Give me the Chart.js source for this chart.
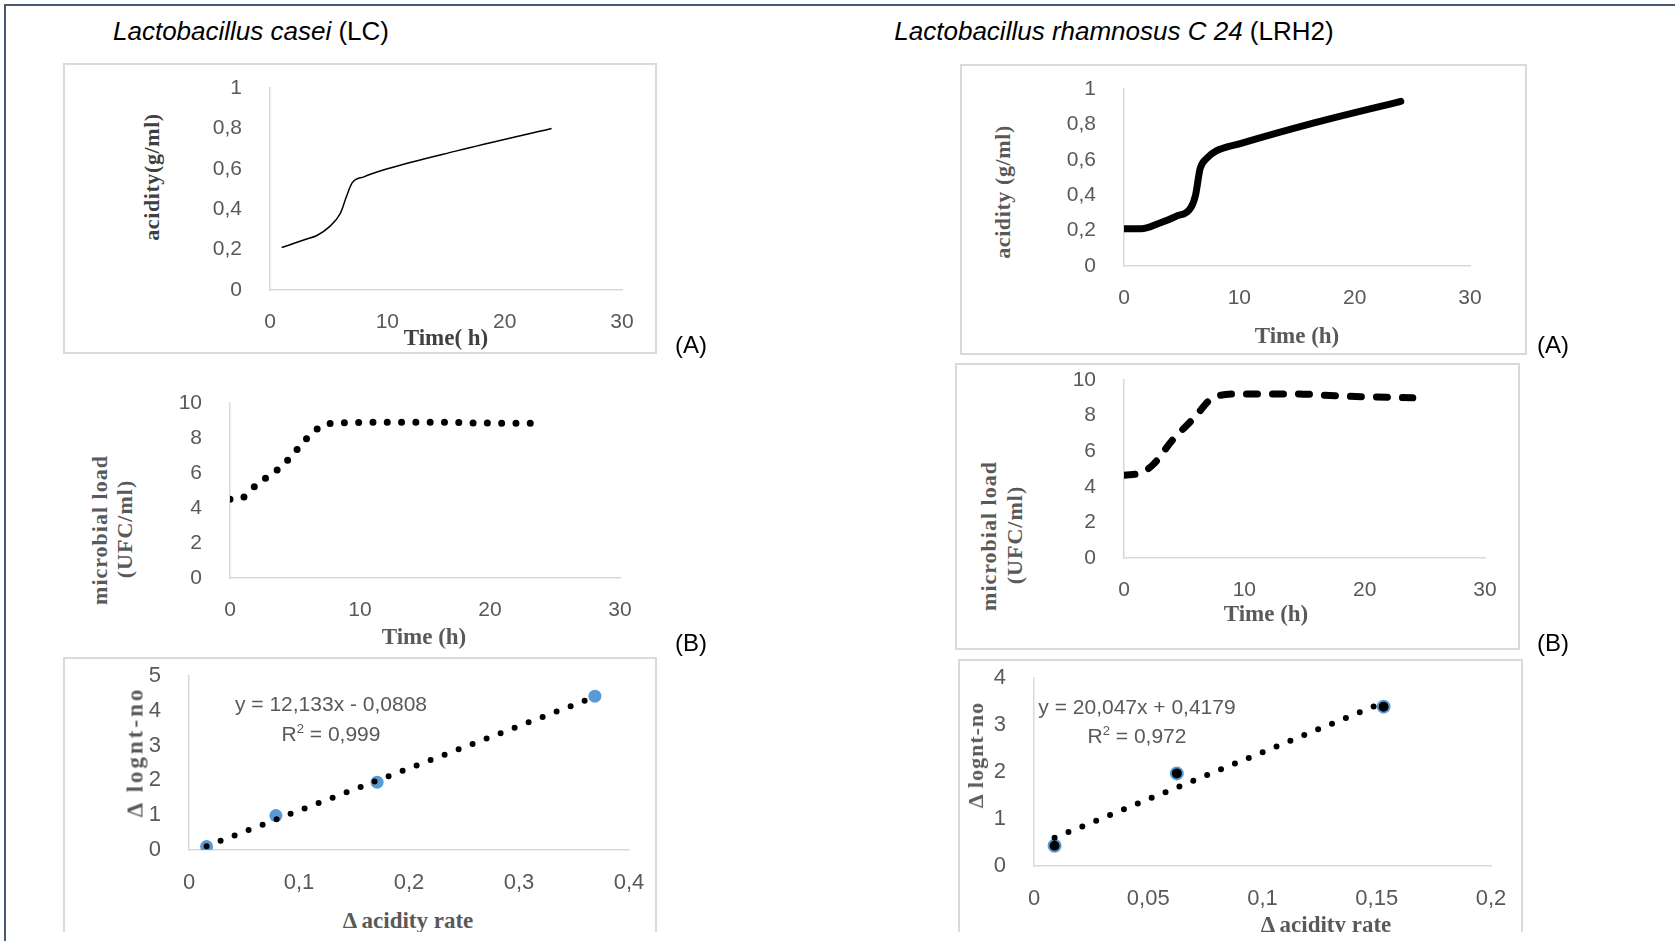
<!DOCTYPE html>
<html><head><meta charset="utf-8">
<script src="https://cdn.jsdelivr.net/npm/chart.js@4.4.1/dist/chart.umd.min.js"></script>
<style>
body{margin:0;background:#fff;}
#page{position:relative;width:1675px;height:941px;overflow:hidden;background:#fff;font-family:"Liberation Sans",Arial,sans-serif;}
.abs{position:absolute;white-space:nowrap;line-height:1;}
.c{transform:translate(-50%,-50%);}
.r{transform:translate(-50%,-50%) rotate(-90deg);}
.box{position:absolute;border:2px solid #DADADA;box-sizing:border-box;}
.ttl{font-family:"Liberation Serif","Times New Roman",serif;font-weight:bold;font-size:22px;color:#595959;}
.xt{font-size:23px;}
.dark{color:#404040;}
.lab{font-size:24px;color:#000;}
.eq{font-size:21px;color:#595959;}
canvas{position:absolute;}
</style>
</head><body>
<div id="page">
  <!-- outer frame -->
  <div style="position:absolute;left:4px;top:4px;width:1671px;height:2px;background:#4A5A72"></div>
  <div style="position:absolute;left:4px;top:4px;width:2px;height:937px;background:#4A5A72"></div>

  <!-- headings -->
  <div class="abs c" style="left:251px;top:31px;font-size:26px;color:#000"><i>Lactobacillus casei</i> (LC)</div>
  <div class="abs c" style="left:1114px;top:31px;font-size:26px;color:#000"><i>Lactobacillus rhamnosus C 24</i> (LRH2)</div>

  <!-- frames -->
  <div class="box" style="left:63px;top:63px;width:594px;height:291px"></div>
  <div class="box" style="left:960px;top:64px;width:567px;height:291px"></div>
  <div class="box" style="left:955px;top:363px;width:565px;height:287px"></div>
  <div class="box" style="left:63px;top:657px;width:594px;height:290px"></div>
  <div class="box" style="left:958px;top:659px;width:565px;height:290px"></div>

  <canvas id="cA1"></canvas>
  <canvas id="cA2"></canvas>
  <canvas id="cB1"></canvas>
  <canvas id="cB2"></canvas>
  <canvas id="cC1"></canvas>
  <canvas id="cC2"></canvas>

  <!-- axis titles -->
  <div class="abs r ttl dark" style="left:152px;top:177px;letter-spacing:0.6px">acidity(g/ml)</div>
  <div class="abs c ttl xt dark" style="left:446px;top:337px">Time( h)</div>
  <div class="abs r ttl" style="left:1003px;top:192px;letter-spacing:0.6px">acidity (g/ml)</div>
  <div class="abs c ttl xt" style="left:1297px;top:335px">Time (h)</div>

  <div class="abs r ttl" style="left:100px;top:530px;letter-spacing:1px">microbial load</div>
  <div class="abs r ttl" style="left:125px;top:529px;letter-spacing:1px">(UFC/ml)</div>
  <div class="abs c ttl xt" style="left:424px;top:636px">Time (h)</div>
  <div class="abs r ttl" style="left:989px;top:536px;letter-spacing:1px">microbial load</div>
  <div class="abs r ttl" style="left:1015px;top:535px;letter-spacing:1px">(UFC/ml)</div>
  <div class="abs c ttl xt" style="left:1266px;top:613px">Time (h)</div>

  <div class="abs r ttl" style="left:135px;top:752px;font-size:23px;letter-spacing:3px">&Delta; lognt-no</div>
  <div class="abs c ttl xt" style="left:408px;top:920px">&Delta; acidity rate</div>
  <div class="abs r ttl" style="left:976px;top:755px;letter-spacing:1px">&Delta; lognt-no</div>
  <div class="abs c ttl xt" style="left:1326px;top:924px">&Delta; acidity rate</div>

  <!-- equations -->
  <div class="abs c eq" style="left:331px;top:703px">y = 12,133x - 0,0808</div>
  <div class="abs c eq" style="left:331px;top:733px">R<sup style="font-size:13px;vertical-align:8px;line-height:0">2</sup> = 0,999</div>
  <div class="abs c eq" style="left:1137px;top:706px">y = 20,047x + 0,4179</div>
  <div class="abs c eq" style="left:1137px;top:735px">R<sup style="font-size:13px;vertical-align:8px;line-height:0">2</sup> = 0,972</div>

  <!-- panel letters -->
  <div class="abs c lab" style="left:691px;top:345px">(A)</div>
  <div class="abs c lab" style="left:1553px;top:345px">(A)</div>
  <div class="abs c lab" style="left:691px;top:643px">(B)</div>
  <div class="abs c lab" style="left:1553px;top:643px">(B)</div>
  <div class="abs c lab" style="left:708px;top:941px">(C)</div>
  <div class="abs c lab" style="left:1552px;top:941px">(C)</div>

  <!-- bottom cut -->
  <div style="position:absolute;left:7px;top:932px;width:1668px;height:9px;background:#fff;z-index:10"></div>
</div>

<script>
// ---------------- DATA ----------------
// (A) acidity, L. casei
const timeAcidLC = [1, 2, 3, 4, 5, 6, 6.5, 7, 8, 10, 16, 24];
const acidLC     = [0.21, 0.23, 0.25, 0.27, 0.31, 0.38, 0.46, 0.53, 0.56, 0.60, 0.69, 0.80];
// (A) acidity, L. rhamnosus
const timeAcidLRH = [0, 1.5, 3, 4.5, 5.8, 6.2, 6.6, 7.2, 8, 10, 16, 24];
const acidLRH     = [0.21, 0.21, 0.24, 0.28, 0.33, 0.40, 0.55, 0.61, 0.65, 0.69, 0.80, 0.93];
// (B) microbial load, L. casei
const timeLoadLC = [0, 1, 2, 4, 5, 6, 7, 8, 12, 16, 20, 24];
const loadLC     = [4.5, 4.6, 5.3, 6.4, 7.2, 8.05, 8.65, 8.85, 8.9, 8.9, 8.85, 8.85];
// (B) microbial load, L. rhamnosus
const timeLoadLRH = [0, 1.5, 2.5, 4, 6, 7, 7.7, 10, 14, 18, 24];
const loadLRH     = [4.65, 4.8, 5.3, 6.6, 8.0, 8.8, 9.1, 9.22, 9.22, 9.1, 9.0];
// (C) regression, L. casei
const dAcidLC  = [0.016, 0.079, 0.171, 0.369];
const dLogLC   = [0.10, 0.99, 1.95, 4.42];
const trendXLC = [0.016, 0.369];
const trendYLC = [0.11, 4.40];
// (C) regression, L. rhamnosus
const dAcidLRH  = [0.009, 0.0625, 0.153];
const dLogLRH   = [0.43, 1.97, 3.39];
const trendXLRH = [0.009, 0.153];
const trendYLRH = [0.60, 3.48];
// tick values / labels
const timeTicks  = [0, 10, 20, 30];
const timeLabels = ['0', '10', '20', '30'];
const acidTicks  = [0, 0.2, 0.4, 0.6, 0.8, 1];
const acidLabels = ['0', '0,2', '0,4', '0,6', '0,8', '1'];
const loadTicks  = [0, 2, 4, 6, 8, 10];
const loadLabels = ['0', '2', '4', '6', '8', '10'];
const cLCxTicks  = [0, 0.1, 0.2, 0.3, 0.4];
const cLCxLabels = ['0', '0,1', '0,2', '0,3', '0,4'];
const cLCyTicks  = [0, 1, 2, 3, 4, 5];
const cLCyLabels = ['0', '1', '2', '3', '4', '5'];
const cLRHxTicks  = [0, 0.05, 0.1, 0.15, 0.2];
const cLRHxLabels = ['0', '0,05', '0,1', '0,15', '0,2'];
const cLRHyTicks  = [0, 1, 2, 3, 4];
const cLRHyLabels = ['0', '1', '2', '3', '4'];

// ---------------- HELPERS ----------------
const ML = 80, MR = 55, MT = 45, MB = 50;
const FONT = '"Liberation Sans", Arial, sans-serif';
function pts(xs, ys){ return xs.map((x,i)=>({x:x, y:ys[i]})); }
function axis(min, max, vals, labels, size, horiz){
  return {
    type:'linear', min:min, max:max,
    afterBuildTicks: s => { s.ticks = vals.map(v => ({value:v})); },
    afterFit: s => { if (s.isHorizontal()) s.height = MB; else s.width = ML; },
    grid:{display:false},
    border:{display:true, color:'#D9D9D9', width:1.5},
    ticks:{padding: horiz ? 12 : 20, color:'#595959', autoSkip:false, maxRotation:0,
      font:{family:FONT, size:size},
      callback:(v,i)=>labels[i]}
  };
}
function make(id, area, datasets, xs, ys){
  const cv = document.getElementById(id);
  const w = Math.round(area.x1-area.x0)+ML+MR, h = Math.round(area.y1-area.y0)+MT+MB;
  cv.width = w; cv.height = h;
  cv.style.width = w+'px'; cv.style.height = h+'px';
  cv.style.left = (area.x0-ML)+'px'; cv.style.top = (area.y0-MT)+'px';
  new Chart(cv, {
    type:'line',
    data:{datasets:datasets},
    options:{
      responsive:false, animation:false, events:[],
      layout:{padding:{left:0, right:MR, top:MT, bottom:0}},
      plugins:{legend:{display:false}, tooltip:{enabled:false}},
      scales:{x:xs, y:ys}
    }
  });
}

// (A) left
make('cA1', {x0:270, x1:622, y0:88, y1:290}, [{
  data: pts(timeAcidLC, acidLC), borderColor:'#000', borderWidth:1.5,
  pointRadius:0, cubicInterpolationMode:'monotone', fill:false
}], axis(0,30,timeTicks,timeLabels,21,true), axis(0,1,acidTicks,acidLabels,21,false));

// (A) right
make('cA2', {x0:1124, x1:1470, y0:89, y1:266}, [{
  data: pts(timeAcidLRH, acidLRH), borderColor:'#000', borderWidth:7,
  borderCapStyle:'round', borderJoinStyle:'round',
  pointRadius:0, cubicInterpolationMode:'monotone', fill:false
}], axis(0,30,timeTicks,timeLabels,21,true), axis(0,1,acidTicks,acidLabels,21,false));

// (B) left
make('cB1', {x0:230, x1:620, y0:403, y1:578}, [{
  data: pts(timeLoadLC, loadLC), borderColor:'#000', borderWidth:7,
  borderDash:[0,14.3], borderCapStyle:'round',
  pointRadius:0, cubicInterpolationMode:'monotone', fill:false
}], axis(0,30,timeTicks,timeLabels,21,true), axis(0,10,loadTicks,loadLabels,21,false));

// (B) right
make('cB2', {x0:1124, x1:1485, y0:380, y1:558}, [{
  data: pts(timeLoadLRH, loadLRH), borderColor:'#000', borderWidth:7,
  borderDash:[11,15], borderCapStyle:'round', borderJoinStyle:'round',
  pointRadius:0, cubicInterpolationMode:'monotone', fill:false
}], axis(0,30,timeTicks,timeLabels,21,true), axis(0,10,loadTicks,loadLabels,21,false));

// (C) left
make('cC1', {x0:189, x1:629, y0:676, y1:850}, [
  {data: pts(trendXLC, trendYLC), borderColor:'#000', borderWidth:6,
   borderDash:[0,15], borderCapStyle:'round', pointRadius:0, fill:false, order:0},
  {data: pts(dAcidLC, dLogLC), showLine:false, pointRadius:6.5,
   pointBackgroundColor:'#5B9BD5', pointBorderWidth:0, order:1}
], axis(0,0.4,cLCxTicks,cLCxLabels,22,true), axis(0,5,cLCyTicks,cLCyLabels,22,false));

// (C) right
make('cC2', {x0:1034, x1:1491, y0:678, y1:866}, [
  {data: pts(trendXLRH, trendYLRH), borderColor:'#000', borderWidth:6,
   borderDash:[0,15], borderCapStyle:'round', pointRadius:0, fill:false, order:0},
  {data: pts(dAcidLRH, dLogLRH), showLine:false, pointRadius:6,
   pointBackgroundColor:'#000', pointBorderColor:'#5B9BD5', pointBorderWidth:2, order:1}
], axis(0,0.2,cLRHxTicks,cLRHxLabels,22,true), axis(0,4,cLRHyTicks,cLRHyLabels,22,false));
</script>
</body></html>
